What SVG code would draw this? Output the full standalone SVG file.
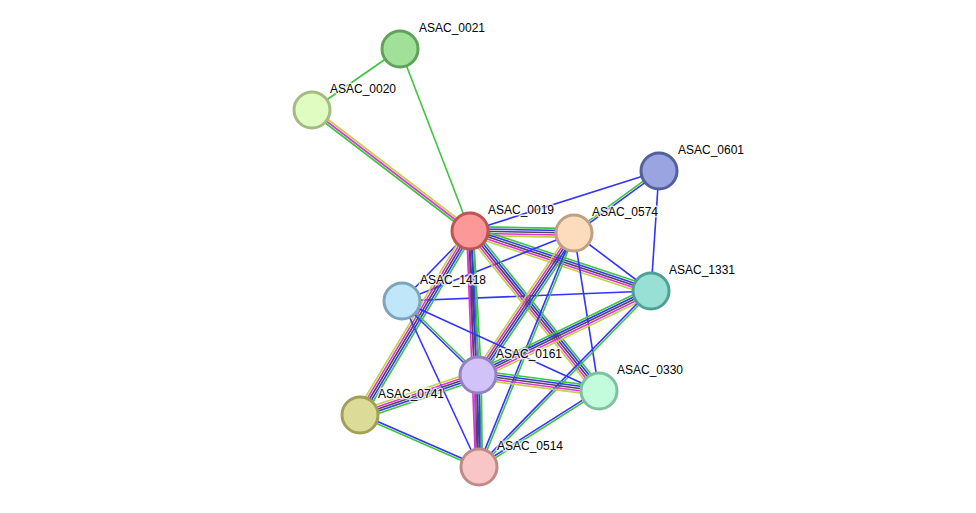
<svg xmlns="http://www.w3.org/2000/svg" width="976" height="513" viewBox="0 0 976 513">
<style>
line{stroke-width:1.6;fill:none}
.g{stroke:#3ec43e}.b{stroke:#3333ff}.k{stroke:#4a4a4a}.m{stroke:#dd33dd}.y{stroke:#c4d045}
circle{stroke-width:3}
text{font-family:"Liberation Sans",Arial,sans-serif;font-size:12px;fill:#000;stroke:#fff;stroke-width:3;stroke-opacity:0.75;paint-order:stroke;stroke-linejoin:round}
</style>
<rect width="976" height="513" fill="#fff"/>
<g id="connectors">
<line class="g" x1="400" y1="49" x2="312" y2="110"/>
<line class="g" x1="400" y1="49" x2="470" y2="231"/>
<line class="y" x1="313.34" y1="108.25" x2="471.34" y2="229.25"/>
<line class="m" x1="312" y1="110" x2="470" y2="231"/>
<line class="g" x1="310.66" y1="111.75" x2="468.66" y2="232.75"/>
<line class="b" x1="470" y1="231" x2="659" y2="171"/>
<line class="g" x1="573.35" y1="232.11" x2="658.35" y2="170.11"/>
<line class="b" x1="574.65" y1="233.89" x2="659.65" y2="171.89"/>
<line class="b" x1="659" y1="171" x2="651" y2="291"/>
<line class="g" x1="470.08" y1="226.6" x2="574.08" y2="228.6"/>
<line class="b" x1="470.04" y1="228.8" x2="574.04" y2="230.8"/>
<line class="k" x1="470" y1="231" x2="574" y2="233"/>
<line class="m" x1="469.96" y1="233.2" x2="573.96" y2="235.2"/>
<line class="y" x1="469.92" y1="235.4" x2="573.92" y2="237.4"/>
<line class="g" x1="471.38" y1="226.82" x2="652.38" y2="286.82"/>
<line class="b" x1="470.69" y1="228.91" x2="651.69" y2="288.91"/>
<line class="k" x1="470" y1="231" x2="651" y2="291"/>
<line class="m" x1="469.31" y1="233.09" x2="650.31" y2="293.09"/>
<line class="y" x1="468.62" y1="235.18" x2="649.62" y2="295.18"/>
<line class="b" x1="574" y1="233" x2="651" y2="291"/>
<line class="b" x1="574" y1="233" x2="402" y2="301"/>
<line class="b" x1="402" y1="301" x2="651" y2="291"/>
<line class="b" x1="470" y1="231" x2="402" y2="301"/>
<line class="g" x1="473.3" y1="230.82" x2="481.3" y2="374.82"/>
<line class="b" x1="471.1" y1="230.94" x2="479.1" y2="374.94"/>
<line class="k" x1="468.9" y1="231.06" x2="476.9" y2="375.06"/>
<line class="m" x1="466.7" y1="231.18" x2="474.7" y2="375.18"/>
<line class="g" x1="473.3" y1="230.87" x2="482.3" y2="466.87"/>
<line class="b" x1="471.1" y1="230.96" x2="480.1" y2="466.96"/>
<line class="k" x1="468.9" y1="231.04" x2="477.9" y2="467.04"/>
<line class="m" x1="466.7" y1="231.13" x2="475.7" y2="467.13"/>
<line class="g" x1="473.43" y1="228.24" x2="602.43" y2="388.24"/>
<line class="b" x1="471.71" y1="229.62" x2="600.71" y2="389.62"/>
<line class="k" x1="470" y1="231" x2="599" y2="391"/>
<line class="m" x1="468.29" y1="232.38" x2="597.29" y2="392.38"/>
<line class="y" x1="466.57" y1="233.76" x2="595.57" y2="393.76"/>
<line class="g" x1="473.78" y1="233.26" x2="363.78" y2="417.26"/>
<line class="b" x1="471.89" y1="232.13" x2="361.89" y2="416.13"/>
<line class="k" x1="470" y1="231" x2="360" y2="415"/>
<line class="m" x1="468.11" y1="229.87" x2="358.11" y2="413.87"/>
<line class="y" x1="466.22" y1="228.74" x2="356.22" y2="412.74"/>
<line class="g" x1="577.65" y1="235.46" x2="481.65" y2="377.46"/>
<line class="b" x1="575.82" y1="234.23" x2="479.82" y2="376.23"/>
<line class="k" x1="574" y1="233" x2="478" y2="375"/>
<line class="m" x1="572.18" y1="231.77" x2="476.18" y2="373.77"/>
<line class="y" x1="570.35" y1="230.54" x2="474.35" y2="372.54"/>
<line class="g" x1="575.02" y1="233.41" x2="480.02" y2="467.41"/>
<line class="b" x1="572.98" y1="232.59" x2="477.98" y2="466.59"/>
<line class="b" x1="574" y1="233" x2="599" y2="391"/>
<line class="y" x1="652.92" y1="294.96" x2="479.92" y2="378.96"/>
<line class="m" x1="651.96" y1="292.98" x2="478.96" y2="376.98"/>
<line class="k" x1="651" y1="291" x2="478" y2="375"/>
<line class="b" x1="650.04" y1="289.02" x2="477.04" y2="373.02"/>
<line class="g" x1="649.08" y1="287.04" x2="476.08" y2="371.04"/>
<line class="g" x1="651.79" y1="291.77" x2="479.79" y2="467.77"/>
<line class="b" x1="650.21" y1="290.23" x2="478.21" y2="466.23"/>
<line class="g" x1="402.77" y1="300.21" x2="478.77" y2="374.21"/>
<line class="b" x1="401.23" y1="301.79" x2="477.23" y2="375.79"/>
<line class="b" x1="402" y1="301" x2="479" y2="467"/>
<line class="b" x1="402" y1="301" x2="599" y2="391"/>
<line class="g" x1="478.58" y1="370.64" x2="599.58" y2="386.64"/>
<line class="b" x1="478.29" y1="372.82" x2="599.29" y2="388.82"/>
<line class="k" x1="478" y1="375" x2="599" y2="391"/>
<line class="m" x1="477.71" y1="377.18" x2="598.71" y2="393.18"/>
<line class="y" x1="477.42" y1="379.36" x2="598.42" y2="395.36"/>
<line class="g" x1="479.41" y1="379.17" x2="361.41" y2="419.17"/>
<line class="b" x1="478.71" y1="377.08" x2="360.71" y2="417.08"/>
<line class="k" x1="478" y1="375" x2="360" y2="415"/>
<line class="m" x1="477.29" y1="372.92" x2="359.29" y2="412.92"/>
<line class="y" x1="476.59" y1="370.83" x2="358.59" y2="410.83"/>
<line class="g" x1="481.3" y1="375" x2="482.3" y2="467"/>
<line class="b" x1="479.1" y1="375" x2="480.1" y2="467"/>
<line class="k" x1="476.9" y1="375" x2="477.9" y2="467"/>
<line class="m" x1="474.7" y1="375" x2="475.7" y2="467"/>
<line class="b" x1="360.44" y1="413.99" x2="479.44" y2="465.99"/>
<line class="g" x1="359.56" y1="416.01" x2="478.56" y2="468.01"/>
<line class="b" x1="598.41" y1="390.07" x2="478.41" y2="466.07"/>
<line class="g" x1="599.59" y1="391.93" x2="479.59" y2="467.93"/>
</g>
<g id="ASAC_0021"><circle cx="400" cy="49" r="18" fill="#a0e098" stroke="#5fa35a"/><text x="419" y="32">ASAC_0021</text></g>
<g id="ASAC_0020"><circle cx="312" cy="110" r="18" fill="#e0fcc0" stroke="#a2bc82"/><text x="330" y="93">ASAC_0020</text></g>
<g id="ASAC_0019"><circle cx="470" cy="231" r="18" fill="#fc9898" stroke="#c05454"/><text x="488" y="214">ASAC_0019</text></g>
<g id="ASAC_0574"><circle cx="574" cy="233" r="18" fill="#fddcbe" stroke="#c0a084"/><text x="592" y="216">ASAC_0574</text></g>
<g id="ASAC_0601"><circle cx="659" cy="171" r="18" fill="#99a4e0" stroke="#52609e"/><text x="678" y="154">ASAC_0601</text></g>
<g id="ASAC_1331"><circle cx="651" cy="291" r="18" fill="#98e0d6" stroke="#52a094"/><text x="669" y="274">ASAC_1331</text></g>
<g id="ASAC_1418"><circle cx="402" cy="301" r="18" fill="#c0e6fa" stroke="#7ea4bc"/><text x="420" y="284">ASAC_1418</text></g>
<g id="ASAC_0161"><circle cx="478" cy="375" r="18" fill="#d2c2fa" stroke="#9282c2"/><text x="496" y="358">ASAC_0161</text></g>
<g id="ASAC_0330"><circle cx="599" cy="391" r="18" fill="#c2fcdc" stroke="#80c0a0"/><text x="617" y="374">ASAC_0330</text></g>
<g id="ASAC_0741"><circle cx="360" cy="415" r="18" fill="#dcdc98" stroke="#a0a056"/><text x="378" y="398">ASAC_0741</text></g>
<g id="ASAC_0514"><circle cx="479" cy="467" r="18" fill="#f8c6c6" stroke="#c08a8a"/><text x="497" y="450">ASAC_0514</text></g>
</svg>
